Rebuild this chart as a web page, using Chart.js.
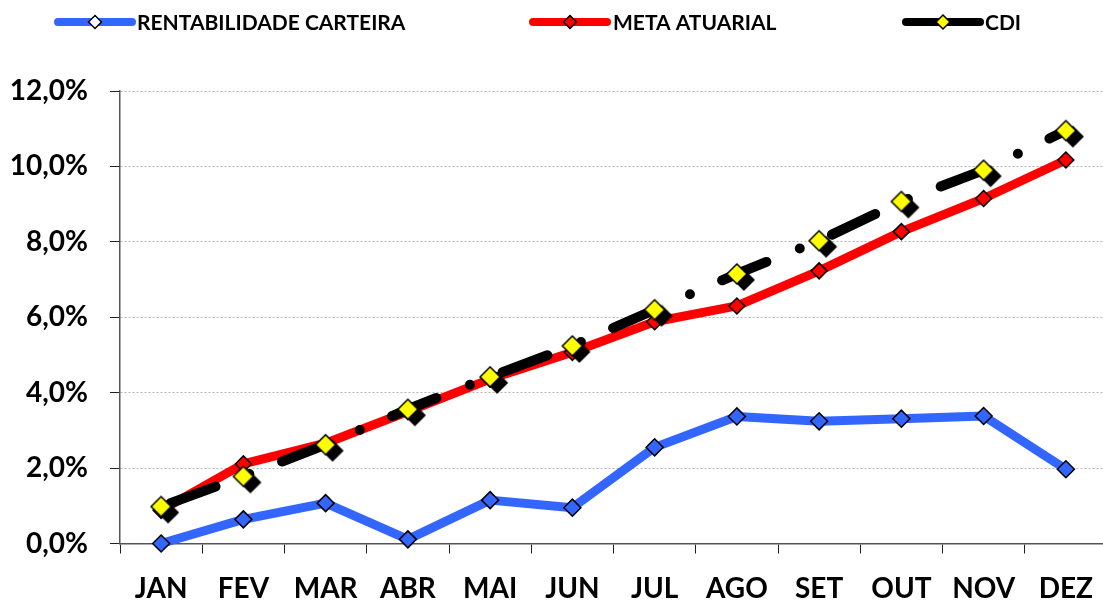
<!DOCTYPE html>
<html>
<head>
<meta charset="utf-8">
<script src="https://cdn.jsdelivr.net/npm/chart.js@4"></script>
<style>
  html, body { margin: 0; padding: 0; background: #fff; overflow: hidden; }
  #wrap { position: absolute; left: 0; top: 0; width: 1107px; height: 604px; }
</style>
</head>
<body>
<div id="wrap"><canvas id="rentChart" width="1107" height="604"></canvas></div>
<script>
// ─── Rentabilidade x Meta x CDI (acumulado no ano) ───

const months = ['JAN', 'FEV', 'MAR', 'ABR', 'MAI', 'JUN', 'JUL', 'AGO', 'SET', 'OUT', 'NOV', 'DEZ'];
const carteira = [0.00, 0.64, 1.07, 0.11, 1.15, 0.95, 2.55, 3.37, 3.24, 3.31, 3.38, 1.97];
const metaAtuarial = [0.88, 2.11, 2.66, 3.50, 4.36, 5.07, 5.88, 6.30, 7.23, 8.27, 9.15, 10.17];
const cdi = [0.98, 1.78, 2.62, 3.56, 4.42, 5.24, 6.20, 7.15, 8.03, 9.07, 9.90, 10.95];

const FONT = "Lato, 'Liberation Sans', sans-serif";

function diamond(g, cx, cy, r) {
    g.beginPath();
    g.moveTo(cx - r, cy);
    g.lineTo(cx, cy - r);
    g.lineTo(cx + r, cy);
    g.lineTo(cx, cy + r);
    g.closePath();
}

// yellow diamond with a hard black drop shadow
function cdiMarker() {
    const c = document.createElement('canvas');
    c.width = 40; c.height = 40;
    const g = c.getContext('2d');
    g.lineWidth = 1.5;
    g.strokeStyle = '#000';
    diamond(g, 27, 26, 10);
    g.fillStyle = '#000';
    g.fill(); g.stroke();
    diamond(g, 20, 20, 10);
    g.fillStyle = '#ffff00';
    g.fill(); g.stroke();
    return c;
}

// Excel-like legend: thick line sample with marker in the middle
const legendItems = [
    { text: 'RENTABILIDADE CARTEIRA', line: '#3366ff', fill: '#ffffff', x: 58, tx: 137, r: 6.5 },
    { text: 'META ATUARIAL', line: '#ff0000', fill: '#ff0000', x: 533, tx: 613, r: 6.5 },
    { text: 'CDI', line: '#000000', fill: '#ffff00', x: 906, tx: 985, r: 7 }
];

const topLegend = {
    id: 'topLegend',
    afterDraw(chart) {
        const ctx = chart.ctx;
        const y = 22;
        ctx.save();
        legendItems.forEach(it => {
            ctx.strokeStyle = it.line;
            ctx.lineWidth = 8;
            ctx.lineCap = 'round';
            ctx.beginPath();
            ctx.moveTo(it.x, y);
            ctx.lineTo(it.x + 74, y);
            ctx.stroke();
            diamond(ctx, it.x + 37, y, it.r);
            ctx.fillStyle = it.fill;
            ctx.fill();
            ctx.lineWidth = 1.5;
            ctx.strokeStyle = '#000';
            ctx.stroke();
            ctx.fillStyle = '#000';
            ctx.font = `bold 21px ${FONT}`;
            ctx.textBaseline = 'middle';
            ctx.textAlign = 'left';
            ctx.fillText(it.text, it.tx, y + 1);
        });
        ctx.restore();
    }
};

const ctx = document.getElementById('rentChart').getContext('2d');
new Chart(ctx, {
    type: 'line',
    data: {
        labels: months,
        datasets: [{
            label: 'CDI',
            data: cdi,
            borderColor: '#000',
            borderWidth: 10,
            borderDash: [48, 36, 0, 35],
            borderDashOffset: -10,
            borderCapStyle: 'round',
            borderJoinStyle: 'round',
            pointStyle: cdiMarker(),
            pointRadius: 10,
            clip: false,
            order: 1
        }, {
            label: 'META ATUARIAL',
            data: metaAtuarial,
            borderColor: '#ff0000',
            borderWidth: 9,
            borderCapStyle: 'round',
            borderJoinStyle: 'round',
            pointStyle: 'rectRot',
            pointRadius: 8,
            pointBackgroundColor: '#ff0000',
            pointBorderColor: '#000',
            pointBorderWidth: 1.5,
            clip: false,
            order: 2
        }, {
            label: 'RENTABILIDADE CARTEIRA',
            data: carteira,
            borderColor: '#3366ff',
            borderWidth: 9,
            borderCapStyle: 'round',
            borderJoinStyle: 'round',
            pointStyle: 'rectRot',
            pointRadius: 8.5,
            pointBackgroundColor: '#3366ff',
            pointBorderColor: '#000',
            pointBorderWidth: 1.5,
            clip: false,
            order: 3
        }]
    },
    options: {
        responsive: false,
        animation: false,
        devicePixelRatio: 1,
        events: [],
        layout: { autoPadding: false, padding: { top: 91, left: 0, right: 0, bottom: 0 } },
        plugins: {
            legend: { display: false },
            tooltip: { enabled: false }
        },
        scales: {
            x: {
                offset: true,
                afterFit: s => {
                    s.height = 60.5;
                    s.paddingLeft = 0;
                    s.paddingRight = 0;
                },
                grid: {
                    offset: true,
                    drawOnChartArea: false,
                    drawTicks: true,
                    tickLength: 10,
                    tickColor: '#222'
                },
                border: { color: '#555', width: 1.5 },
                ticks: {
                    color: '#000',
                    font: { family: FONT, size: 28, weight: 'bold' },
                    padding: 19,
                    maxRotation: 0,
                    autoSkip: false
                }
            },
            y: {
                min: 0,
                max: 12,
                afterFit: s => { s.width = 120; },
                grid: {
                    color: c => c.tick && c.tick.value === 0 ? 'rgba(0,0,0,0)' : '#b4b4b4',
                    tickColor: '#222',
                    tickLength: 10,
                    lineWidth: 1
                },
                border: { color: '#555', width: 1.5, dash: [2, 2] },
                ticks: {
                    stepSize: 2,
                    color: '#000',
                    padding: 22,
                    font: { family: FONT, size: 28, weight: 'bold' },
                    callback: v => v.toFixed(1).replace('.', ',') + '%'
                }
            }
        }
    },
    plugins: [topLegend]
});
</script>
</body>
</html>
